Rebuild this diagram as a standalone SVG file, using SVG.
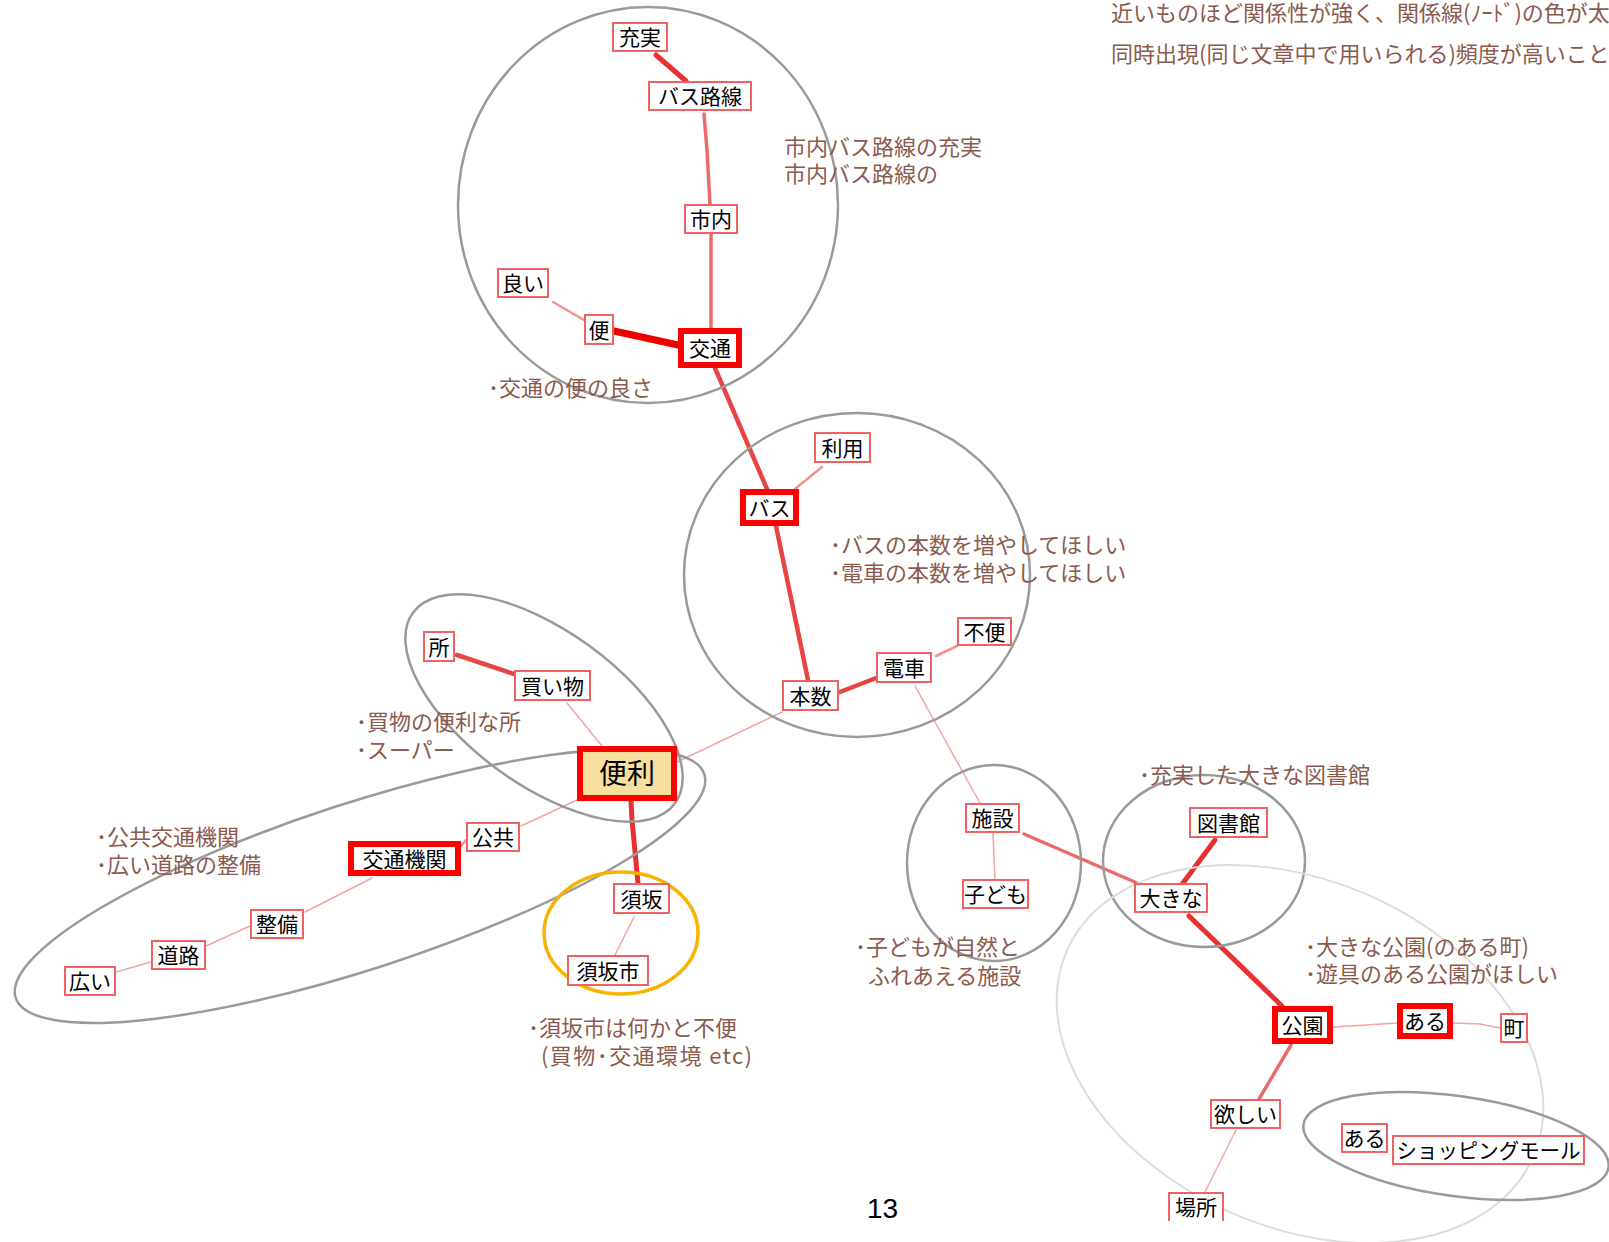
<svg xmlns="http://www.w3.org/2000/svg" width="1609" height="1242" viewBox="0 0 1609 1242">
<defs>
<style>
.n{fill:#fff;stroke:#f06262;stroke-width:2}
.t{fill:#fff;stroke:#ff0000;stroke-width:6}
.lbl{font-family:"Noto Sans CJK JP","Noto Sans",sans-serif;font-size:21px;fill:#000;text-anchor:middle}
.ann{font-family:"Noto Sans CJK JP","Noto Sans",sans-serif;font-size:22px;fill:#8b5a4e}
.el{fill:none;stroke:#9a9a9a;stroke-width:2.5}
.c{fill:none;stroke-linecap:round}
.w1{stroke:#f4a4a4;stroke-width:1.5}
.w2{stroke:#f29090;stroke-width:2.5}
.w3{stroke:#ee6a6a;stroke-width:3.5}
.w4{stroke:#e84444;stroke-width:4.5}
.w5{stroke:#e83030;stroke-width:5}
</style>
<clipPath id="cut"><rect x="0" y="0" width="1609" height="1221"/></clipPath>
</defs>
<rect width="1609" height="1242" fill="#fff"/>

<g id="connectors">
<line class="c w5" x1="656" y1="55" x2="686" y2="81"/>
<polyline class="c w3" points="704,114 707,150 710,204"/>
<line class="c w3" x1="711" y1="234" x2="711" y2="328"/>
<line class="c w2" x1="553" y1="302" x2="584" y2="320"/>
<line class="c" stroke="#ee0000" stroke-width="7" x1="614" y1="331" x2="678" y2="345"/>
<line class="c w4" x1="715" y1="368" x2="767" y2="489"/>
<line class="c w2" x1="795" y1="489" x2="822" y2="467"/>
<line class="c w4" x1="776" y1="526" x2="808" y2="680"/>
<line class="c w4" x1="840" y1="692" x2="876" y2="678"/>
<line class="c w2" x1="936" y1="656" x2="957" y2="646"/>
<line class="c w1" x1="782" y1="712" x2="677" y2="762"/>
<line class="c w1" x1="915" y1="686" x2="980" y2="803"/>
<line class="c w4" x1="457" y1="655" x2="514" y2="674"/>
<line class="c w1" x1="567" y1="703" x2="602" y2="746"/>
<line class="c w1" x1="577" y1="800" x2="521" y2="826"/>
<line class="c w2" x1="461" y1="846" x2="466" y2="840"/>
<polyline class="c w5" points="631,801 632,820 638,883"/>
<line class="c w1" x1="372" y1="878" x2="305" y2="912"/>
<line class="c w1" x1="250" y1="926" x2="206" y2="946"/>
<line class="c w1" x1="151" y1="962" x2="116" y2="972"/>
<line class="c w1" x1="634" y1="917" x2="615" y2="955"/>
<line class="c w3" x1="1024" y1="834" x2="1137" y2="883"/>
<line class="c w1" x1="993" y1="833" x2="995" y2="879"/>
<line class="c w5" x1="1215" y1="840" x2="1183" y2="883"/>
<line class="c w5" x1="1189" y1="916" x2="1282" y2="1006"/>
<polyline class="c w1" stroke-width="2" points="1333,1027 1350,1026 1397,1023"/>
<polyline class="c w1" stroke-width="2" points="1453,1023 1480,1024 1500,1028"/>
<line class="c w3" x1="1291" y1="1045" x2="1259" y2="1099"/>
<line class="c w1" x1="1236" y1="1130" x2="1205" y2="1192"/>
</g>

<g id="clusters">
<ellipse class="el" cx="648" cy="205" rx="190" ry="198"/>
<ellipse class="el" cx="857" cy="575" rx="173" ry="162"/>
<ellipse class="el" cx="544" cy="708" rx="162" ry="77" transform="rotate(36 544 708)"/>
<ellipse class="el" cx="360" cy="886" rx="362" ry="83" transform="rotate(-18 360 886)"/>
<ellipse cx="621" cy="933" rx="77" ry="61" fill="none" stroke="#f5b400" stroke-width="3.5"/>
<ellipse class="el" cx="994" cy="863" rx="87" ry="98"/>
<ellipse class="el" cx="1204" cy="861" rx="101" ry="86"/>
<ellipse cx="1300" cy="1054" rx="255" ry="173" transform="rotate(24 1300 1054)" fill="none" stroke="#dcdcdc" stroke-width="2"/>
<ellipse class="el" cx="1456" cy="1146" rx="154" ry="50" transform="rotate(8 1456 1146)"/>
</g>

<g id="node-juujitsu"><rect class="n" x="613" y="23" width="54" height="28"/><text class="lbl" x="640" y="45">充実</text></g>
<g id="node-basurosen"><rect class="n" x="649" y="82" width="102" height="28"/><text class="lbl" x="700" y="104">バス路線</text></g>
<g id="node-shinai"><rect class="n" x="685" y="205" width="52" height="28"/><text class="lbl" x="711" y="227">市内</text></g>
<g id="node-yoi"><rect class="n" x="498" y="269" width="50" height="28"/><text class="lbl" x="523" y="291">良い</text></g>
<g id="node-bin"><rect class="n" x="585" y="315" width="28" height="29"/><text class="lbl" x="599" y="337.5">便</text></g>
<g id="node-koutsuu"><rect class="t" x="681" y="331" width="58" height="34"/><text class="lbl" x="710" y="356">交通</text></g>
<g id="node-riyou"><rect class="n" x="815" y="433" width="55" height="29"/><text class="lbl" x="842.5" y="455.5">利用</text></g>
<g id="node-basu"><rect class="t" x="743" y="492" width="53" height="31"/><text class="lbl" x="769.5" y="515.5">バス</text></g>
<g id="node-honsuu"><rect class="n" x="783" y="681" width="55" height="29"/><text class="lbl" x="810.5" y="703.5">本数</text></g>
<g id="node-densha"><rect class="n" x="877" y="653" width="54" height="29"/><text class="lbl" x="904" y="675.5">電車</text></g>
<g id="node-fuben"><rect class="n" x="958" y="618" width="53" height="27"/><text class="lbl" x="984.5" y="639.5">不便</text></g>
<g id="node-tokoro"><rect class="n" x="424" y="632" width="30" height="29"/><text class="lbl" x="439" y="654.5">所</text></g>
<g id="node-kaimono"><rect class="n" x="515" y="671" width="75" height="29"/><text class="lbl" x="552.5" y="693.5">買い物</text></g>
<g id="node-benri"><rect class="t" x="580" y="749" width="94" height="49" style="fill:#f7dfa0"/><text class="lbl" x="627" y="784" style="font-size:28px">便利</text></g>
<g id="node-koukyou"><rect class="n" x="467" y="823" width="52" height="28"/><text class="lbl" x="493" y="845">公共</text></g>
<g id="node-koutsuukikan"><rect class="t" x="351" y="844" width="107" height="29"/><text class="lbl" x="404.5" y="866.5">交通機関</text></g>
<g id="node-seibi"><rect class="n" x="251" y="910" width="52" height="28"/><text class="lbl" x="277" y="932">整備</text></g>
<g id="node-douro"><rect class="n" x="152" y="941" width="53" height="28"/><text class="lbl" x="178.5" y="963">道路</text></g>
<g id="node-hiroi"><rect class="n" x="65" y="967" width="50" height="28"/><text class="lbl" x="90" y="989">広い</text></g>
<g id="node-suzaka"><rect class="n" x="614" y="884" width="55" height="29"/><text class="lbl" x="641.5" y="906.5">須坂</text></g>
<g id="node-suzakashi"><rect class="n" x="568" y="956" width="80" height="29"/><text class="lbl" x="608" y="978.5">須坂市</text></g>
<g id="node-shisetsu"><rect class="n" x="966" y="804" width="53" height="28"/><text class="lbl" x="992.5" y="826">施設</text></g>
<g id="node-kodomo"><rect class="n" x="963" y="880" width="65" height="28"/><text class="lbl" x="995.5" y="902">子ども</text></g>
<g id="node-toshokan"><rect class="n" x="1190" y="808" width="77" height="29"/><text class="lbl" x="1228.5" y="830.5">図書館</text></g>
<g id="node-ookina"><rect class="n" x="1135" y="884" width="72" height="28"/><text class="lbl" x="1171" y="906">大きな</text></g>
<g id="node-kouen"><rect class="t" x="1275" y="1009" width="55" height="32"/><text class="lbl" x="1302.5" y="1033">公園</text></g>
<g id="node-aru1"><rect class="t" x="1400" y="1006" width="50" height="30"/><text class="lbl" x="1425" y="1029">ある</text></g>
<g id="node-machi"><rect class="n" x="1501" y="1014" width="26" height="28"/><text class="lbl" x="1514" y="1036">町</text></g>
<g id="node-hoshii"><rect class="n" x="1211" y="1100" width="69" height="28"/><text class="lbl" x="1245.5" y="1122">欲しい</text></g>
<g id="node-basho" clip-path="url(#cut)"><rect class="n" x="1169" y="1193" width="54" height="40"/><text class="lbl" x="1196" y="1215">場所</text></g>
<g id="node-aru2"><rect class="n" x="1342" y="1124" width="45" height="28"/><text class="lbl" x="1364.5" y="1146">ある</text></g>
<g id="node-shoppingmall"><rect class="n" x="1393" y="1136" width="191" height="28"/><text class="lbl" x="1488.5" y="1158" textLength="184" lengthAdjust="spacingAndGlyphs">ショッピングモール</text></g>

<g id="annotations">
<text class="ann" x="1111" y="21">近いものほど関係性が強く、関係線(ﾉｰﾄﾞ)の色が太</text>
<text class="ann" x="1111" y="62">同時出現(同じ文章中で用いられる)頻度が高いこと</text>
<text class="ann" x="784" y="155">市内バス路線の充実</text>
<text class="ann" x="784" y="182">市内バス路線の</text>
<text class="ann" x="488" y="396">･交通の便の良さ</text>
<text class="ann" x="830" y="553">･バスの本数を増やしてほしい</text>
<text class="ann" x="830" y="581">･電車の本数を増やしてほしい</text>
<text class="ann" x="356" y="730">･買物の便利な所</text>
<text class="ann" x="356" y="758">･スーパー</text>
<text class="ann" x="96" y="845">･公共交通機関</text>
<text class="ann" x="96" y="873">･広い道路の整備</text>
<text class="ann" x="528" y="1036">･須坂市は何かと不便</text>
<text class="ann" x="541" y="1064" textLength="211">(買物･交通環境 etc)</text>
<text class="ann" x="1139" y="783">･充実した大きな図書館</text>
<text class="ann" x="855" y="955">･子どもが自然と</text>
<text class="ann" x="868" y="984">ふれあえる施設</text>
<text class="ann" x="1305" y="955">･大きな公園(のある町)</text>
<text class="ann" x="1305" y="982">･遊具のある公園がほしい</text>
<text x="867" y="1218" font-family="Liberation Sans, sans-serif" font-size="28" fill="#000">13</text>
</g>
</svg>
